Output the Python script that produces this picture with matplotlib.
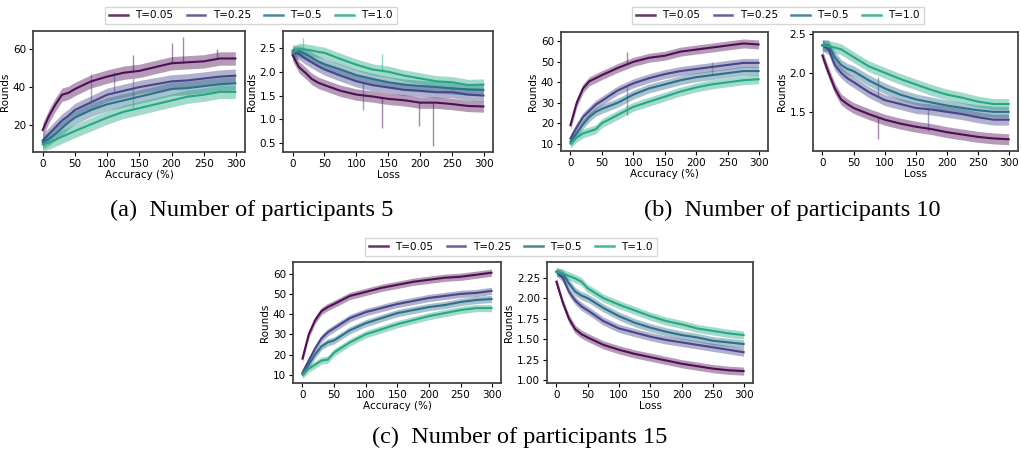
import matplotlib.pyplot as plt
import numpy as np

W, H = 1021, 449

labels = ['T=0.05', 'T=0.25', 'T=0.5', 'T=1.0']
colors = ['#4f0f54', '#46468a', '#2e6f8c', '#27a884']

rounds = [0, 10, 20, 30, 40, 50, 75, 100, 125, 150, 175, 200, 225, 250, 275, 299]

# (a) 5 participants
acc_5 = [
	[17.5, 25, 31, 36, 37, 39, 43, 45.5, 47.5, 48.5, 50.5, 52.5, 53, 53.5, 55, 55],
	[12, 15.5, 19, 22.5, 25, 28, 32, 36, 38, 40, 41.5, 43, 43.5, 44.5, 45.5, 46],
	[11, 13, 15.5, 18.5, 21.5, 24, 28, 31, 33, 35, 37, 39, 39.5, 40.5, 41.5, 42],
	[10, 11, 12.5, 14, 15.5, 17, 20.5, 24, 27, 29, 31, 33, 35, 36, 37.5, 37.5],
]
loss_5 = [
	[2.35, 2.1, 1.98, 1.85, 1.77, 1.72, 1.6, 1.52, 1.48, 1.43, 1.4, 1.35, 1.35, 1.32, 1.28, 1.27],
	[2.4, 2.38, 2.28, 2.2, 2.12, 2.05, 1.92, 1.8, 1.72, 1.67, 1.62, 1.6, 1.57, 1.57, 1.52, 1.5],
	[2.45, 2.43, 2.38, 2.3, 2.22, 2.16, 2.05, 1.93, 1.85, 1.78, 1.73, 1.7, 1.68, 1.65, 1.63, 1.62],
	[2.4, 2.48, 2.47, 2.45, 2.42, 2.4, 2.27, 2.15, 2.05, 2.0, 1.92, 1.86, 1.8, 1.78, 1.72, 1.73],
]
# (b) 10 participants
acc_10 = [
	[19, 30, 37, 40.5, 42, 43.5, 47, 50, 52, 53, 55, 56, 57, 58, 59, 58.5],
	[12.5, 18, 23, 26, 29, 31, 36, 39.5, 42, 44, 45.5, 46.5, 47.5, 48.5, 49.5, 49.5],
	[11, 15, 19.5, 23, 25.5, 27, 30, 34, 37, 39, 41, 42.5, 43.5, 44.5, 45.5, 45.5],
	[10, 13, 15, 16, 17, 20, 24, 28, 30.5, 33, 35.5, 37.5, 39, 40, 41, 41.5],
]
loss_10 = [
	[2.22, 2.0, 1.8, 1.66, 1.6, 1.55, 1.47, 1.4, 1.35, 1.31, 1.28, 1.24, 1.21, 1.18, 1.16, 1.15],
	[2.35, 2.3, 2.1, 2.0, 1.93, 1.88, 1.75, 1.65, 1.6, 1.55, 1.53, 1.5, 1.47, 1.43, 1.4, 1.4],
	[2.35, 2.35, 2.2, 2.1, 2.05, 2.02, 1.9, 1.8, 1.72, 1.66, 1.62, 1.58, 1.55, 1.52, 1.5, 1.5],
	[2.35, 2.34, 2.32, 2.3, 2.25, 2.2, 2.08, 2.0, 1.92, 1.85, 1.78, 1.72, 1.68, 1.63, 1.6, 1.6],
]
# (c) 15 participants
acc_15 = [
	[18, 30, 37, 41.5, 43.5, 45, 49, 51, 53, 54.5, 56, 57, 58, 58.5, 59.5, 60.5],
	[11, 17, 23, 28, 31, 33, 38, 41, 43, 45, 46.5, 48, 49, 50, 50.5, 51.5],
	[10.5, 15, 20, 24, 26, 27, 32, 35.5, 38, 40.5, 42, 43.5, 44.5, 46, 47, 47.5],
	[10, 13, 15, 17, 17.5, 21, 26, 30, 32.5, 35, 37, 39, 40.5, 42, 43, 43],
]
loss_15 = [
	[2.2, 1.95, 1.75, 1.62, 1.56, 1.52, 1.43, 1.37, 1.32, 1.28, 1.24, 1.2, 1.17, 1.14, 1.12, 1.11],
	[2.32, 2.25, 2.08, 1.97, 1.9, 1.85, 1.72, 1.63, 1.58, 1.53, 1.49, 1.46, 1.43, 1.4, 1.37, 1.34],
	[2.32, 2.3, 2.18, 2.08, 2.03, 2.0, 1.88, 1.78, 1.7, 1.64, 1.59, 1.55, 1.52, 1.48, 1.46, 1.44],
	[2.32, 2.3, 2.27, 2.24, 2.2, 2.12, 2.0, 1.92, 1.85, 1.78, 1.72, 1.68, 1.63, 1.6, 1.57, 1.55],
]

# spread of the raw (noisy) curves around the smoothed ones
spread = {'acc_5': 3.5, 'loss_5': 0.12, 'acc_10': 2.2, 'loss_10': 0.07,
		  'acc_15': 1.8, 'loss_15': 0.05}

# single outlier spikes: (series, round, value)
spikes = {
	'acc_5': [(0, 140, 57), (0, 200, 63), (0, 218, 66.5), (0, 270, 60), (1, 75, 47),
			  (1, 110, 48), (2, 140, 45), (3, 140, 37)],
	'loss_5': [(0, 140, 0.82), (0, 198, 0.85), (0, 220, 0.43), (1, 110, 1.2),
			   (3, 17, 2.72), (3, 140, 2.38)],
	'acc_10': [(0, 90, 55), (1, 90, 24), (2, 225, 50)],
	'loss_10': [(0, 90, 1.15), (1, 90, 1.95), (1, 170, 1.25)],
	'acc_15': [],
	'loss_15': [],
}

panels = [
	('acc_5', acc_5, (33, 31, 245, 152), (6, 69.4), [20, 40, 60], 'Accuracy (%)'),
	('loss_5', loss_5, (283, 31, 493, 152), (0.31, 2.86), [0.5, 1.0, 1.5, 2.0, 2.5], 'Loss'),
	('acc_10', acc_10, (561, 32, 768, 151), (6.4, 64.6), [10, 20, 30, 40, 50, 60], 'Accuracy (%)'),
	('loss_10', loss_10, (813, 32, 1018, 151), (1.0, 2.52), [1.5, 2.0, 2.5], 'Loss'),
	('acc_15', acc_15, (293, 262, 501, 383), (5.9, 65.8), [10, 20, 30, 40, 50, 60], 'Accuracy (%)'),
	('loss_15', loss_15, (547, 262, 753, 383), (0.965, 2.44),
	 [1.00, 1.25, 1.50, 1.75, 2.00, 2.25], 'Loss'),
]

fig = plt.figure(figsize=(W / 100, H / 100), dpi=100)

for key, series, (x0, y0, x1, y1), ylim, yticks, xlabel in panels:
	ax = fig.add_axes([x0 / W, 1 - y1 / H, (x1 - x0) / W, (y1 - y0) / H])
	s = spread[key]
	for i, ys in enumerate(series):
		ys = np.array(ys)
		ax.fill_between(rounds, ys - s, ys + s, color=colors[i], alpha=0.42, lw=0)
		for j, rx, rv in spikes[key]:
			if j == i:
				base = np.interp(rx, rounds, ys)
				ax.vlines(rx, min(base, rv), max(base, rv), color=colors[i], alpha=0.5, lw=1.0)
	for i, ys in enumerate(series):
		ax.plot(rounds, ys, color=colors[i], lw=1.5)
	ax.set_xlim(-15, 314)
	ax.set_ylim(*ylim)
	ax.set_xticks([0, 50, 100, 150, 200, 250, 300])
	ax.set_yticks(yticks)
	if key == 'loss_15':
		ax.set_yticklabels([f'{v:.2f}' for v in yticks])
	ax.tick_params(labelsize=7.5, length=3, width=0.8, pad=2)
	ax.set_xlabel(xlabel, fontsize=7.5, labelpad=1)
	ax.set_ylabel('Rounds', fontsize=7.5, labelpad=2)
	for sp in ax.spines.values():
		sp.set_color('#444444')
		sp.set_linewidth(1.3)

handles = [plt.Line2D([], [], color=c, lw=1.8, alpha=0.85) for c in colors]
for cx, cy in [(251, 15.5), (778, 15.5), (511, 247)]:
	fig.legend(handles, labels, loc='center', bbox_to_anchor=(cx / W, 1 - cy / H),
			   ncol=4, fontsize=7.5, handlelength=1.8, columnspacing=1.3,
			   frameon=True, edgecolor='#cccccc', fancybox=False,
			   borderpad=0.35, handletextpad=0.7)

cap = dict(fontsize=17.5, family='Liberation Serif', ha='center', va='center')
fig.text(252 / W, 1 - 210 / H, '(a)  Number of participants 5', **cap)
fig.text(792 / W, 1 - 210 / H, '(b)  Number of participants 10', **cap)
fig.text(520 / W, 1 - 437 / H, '(c)  Number of participants 15', **cap)

fig.savefig('out.png', dpi=100)
